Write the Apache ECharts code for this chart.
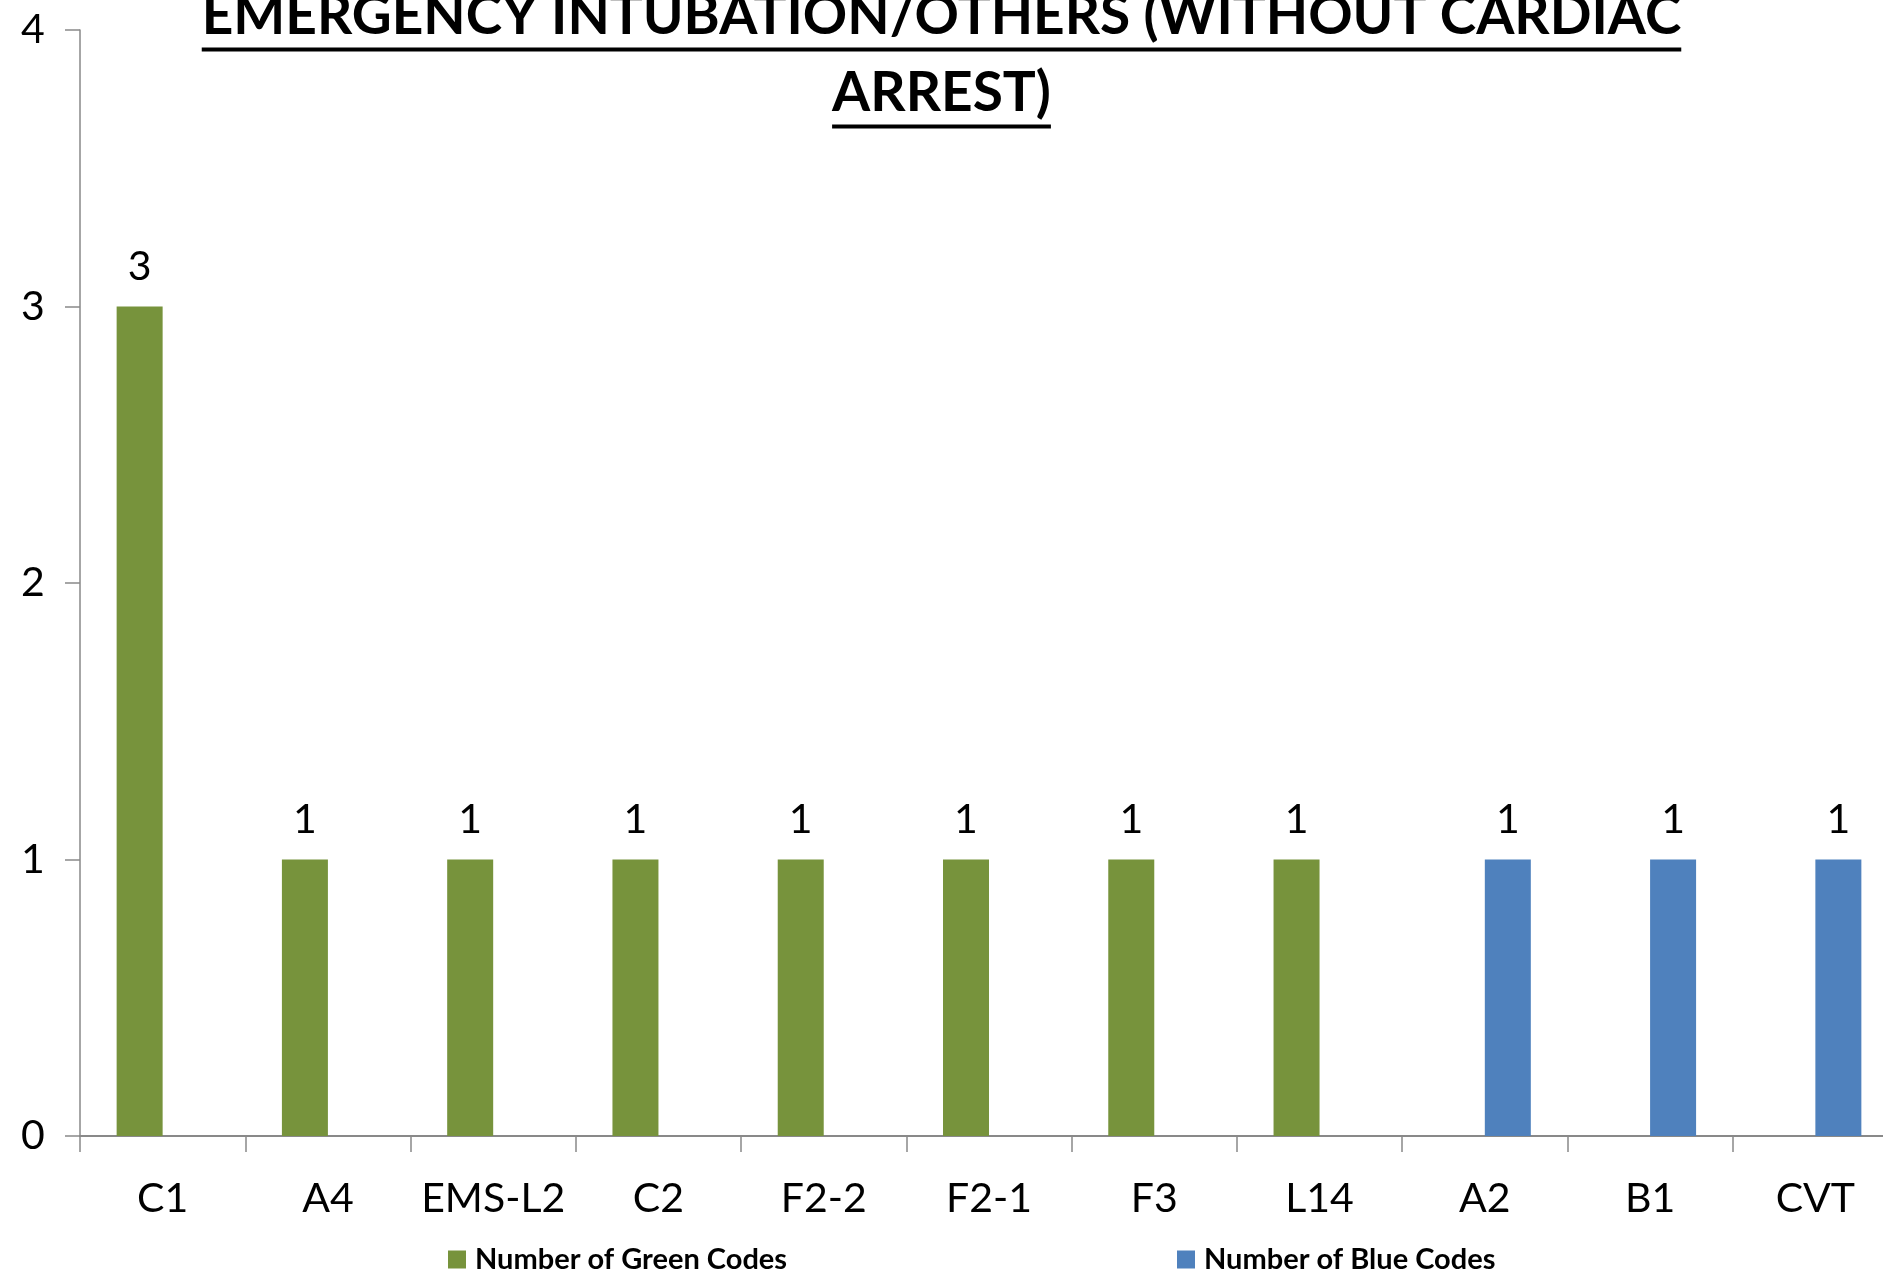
<!DOCTYPE html>
<html>
<head>
<meta charset="utf-8">
<script src="https://cdn.jsdelivr.net/npm/echarts@6/dist/echarts.min.js"></script>
<style>
  html, body { margin: 0; padding: 0; background: #fff; }
  #chart { width: 1883px; height: 1275px; }
</style>
</head>
<body>
<div id="chart"></div>
<script>
var titleLines = ['EMERGENCY INTUBATION/OTHERS (WITHOUT CARDIAC', 'ARREST)'];
var categories = ['C1', 'A4', 'EMS-L2', 'C2', 'F2-2', 'F2-1', 'F3', 'L14', 'A2', 'B1', 'CVT'];
var greenCodes = [3, 1, 1, 1, 1, 1, 1, 1, null, null, null];
var blueCodes = [null, null, null, null, null, null, null, null, 1, 1, 1];
var seriesNames = ['Number of Green Codes', 'Number of Blue Codes'];
var yTicks = [0, 1, 2, 3, 4];

var green = '#77933C';
var blue = '#4F81BD';
var axisGray = '#898989';
var font = 'Lato';

// title lines, each its own title so both are centred; underline drawn below
var titleSize = 55;
var titleLineH = 77;
var titleTop = -22;
var ctx = document.createElement('canvas').getContext('2d');
ctx.font = 'bold ' + titleSize + 'px ' + font;
var titles = [];
var underlines = [];
for (var i = 0; i < titleLines.length; i++) {
    titles.push({
        text: titleLines[i],
        left: 'center',
        top: titleTop + titleLineH * i,
        padding: 0,
        textStyle: {
            fontFamily: font,
            fontWeight: 'bold',
            fontSize: titleSize,
            lineHeight: titleLineH,
            color: '#000'
        }
    });
    var w = ctx.measureText(titleLines[i]).width;
    var y = titleTop + titleLineH * i + titleLineH / 2 + 33;
    underlines.push({
        type: 'line',
        shape: {x1: 1883 / 2 - w / 2, y1: y, x2: 1883 / 2 + w / 2, y2: y},
        style: {stroke: '#000', lineWidth: 4}
    });
}

var legendText = {fontFamily: font, fontWeight: 'bold', fontSize: 29, color: '#000', padding: [0, 0, 0, 4]};

var myChart = echarts.init(document.getElementById('chart'));
myChart.setOption({
    animation: false,
    textStyle: {fontFamily: font},
    title: titles,
    graphic: underlines,
    legend: [{
        data: [seriesNames[0]],
        left: 448,
        top: 1245,
        padding: 0,
        icon: 'rect',
        itemWidth: 18,
        itemHeight: 18,
        textStyle: legendText
    }, {
        data: [seriesNames[1]],
        left: 1177,
        top: 1245,
        padding: 0,
        icon: 'rect',
        itemWidth: 18,
        itemHeight: 18,
        textStyle: legendText
    }],
    grid: {
        left: 80,
        top: 30,
        width: 1818,
        height: 1106,
        outerBoundsMode: 'none',
        containLabel: false
    },
    xAxis: {
        type: 'category',
        data: categories,
        boundaryGap: true,
        axisLine: {lineStyle: {color: axisGray, width: 2}},
        axisTick: {show: true, length: 16, lineStyle: {color: axisGray, width: 1.5}},
        axisLabel: {
            interval: 0,
            margin: 42,
            fontFamily: font,
            fontSize: 41,
            color: '#000'
        },
        splitLine: {show: false}
    },
    yAxis: {
        type: 'value',
        min: yTicks[0],
        max: yTicks[yTicks.length - 1],
        interval: 1,
        axisLine: {show: true, lineStyle: {color: axisGray, width: 1.5}},
        axisTick: {show: true, length: 15, lineStyle: {color: axisGray, width: 1.5}},
        axisLabel: {
            margin: 47,
            fontFamily: font,
            fontSize: 41,
            color: '#000',
            align: 'center'
        },
        splitLine: {show: false}
    },
    series: [{
        name: seriesNames[0],
        type: 'bar',
        data: greenCodes,
        barWidth: 46,
        barGap: '0%',
        itemStyle: {color: green},
        label: {show: true, position: 'top', distance: 19, fontFamily: font, fontSize: 41, color: '#000'}
    }, {
        name: seriesNames[1],
        type: 'bar',
        data: blueCodes,
        barWidth: 46,
        barGap: '0%',
        itemStyle: {color: blue},
        label: {show: true, position: 'top', distance: 19, fontFamily: font, fontSize: 41, color: '#000'}
    }]
});
</script>
</body>
</html>
